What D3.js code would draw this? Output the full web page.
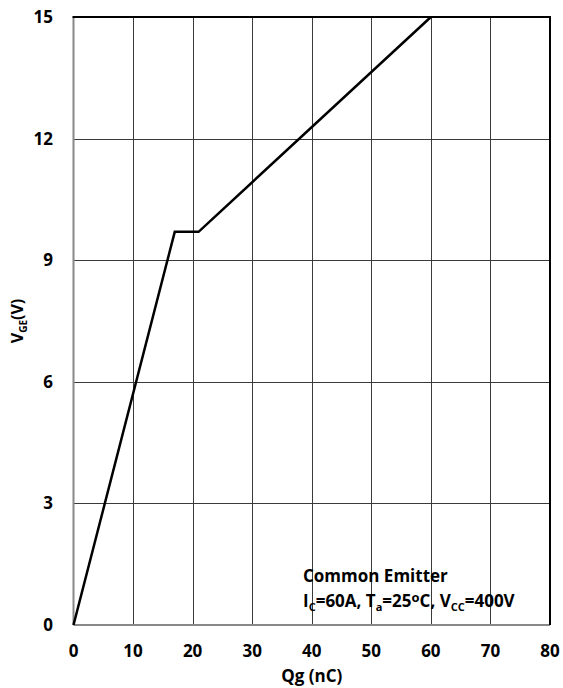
<!DOCTYPE html>
<html>
<head>
<meta charset="utf-8">
<script src="https://cdn.jsdelivr.net/npm/d3@7"></script>
<style>
  body { margin: 0; background: #fff; }
  text { font-family: "Open Sans", "DejaVu Sans", sans-serif; font-weight: 700; fill: #000; }
</style>
</head>
<body>
<div id="chart"></div>
<script>
// gate charge curve, VGE vs Qg
var qg = [0, 17, 21, 60];
var vge = [0, 9.7, 9.7, 15];
var xTicks = [0, 10, 20, 30, 40, 50, 60, 70, 80];
var yTicks = [0, 3, 6, 9, 12, 15];

var width = 563, height = 688;
var margin = {top: 17, right: 13, bottom: 63, left: 73.5};

var svg = d3.select("#chart").append("svg")
  .attr("width", width)
  .attr("height", height);

var x = d3.scaleLinear().domain([0, 80]).range([margin.left, width - margin.right]);
var y = d3.scaleLinear().domain([0, 15]).range([height - margin.bottom, margin.top]);

// grid
svg.append("g").selectAll("line.v")
  .data(xTicks.slice(1, -1))
  .enter().append("line")
    .attr("x1", d => Math.round(x(d)) + 0.5)
    .attr("x2", d => Math.round(x(d)) + 0.5)
    .attr("y1", y(15))
    .attr("y2", y(0))
    .style("stroke", "#3a3a3a")
    .style("stroke-width", 1);

svg.append("g").selectAll("line.h")
  .data(yTicks.slice(1, -1))
  .enter().append("line")
    .attr("x1", x(0))
    .attr("x2", x(80))
    .attr("y1", d => Math.round(y(d)) + 0.5)
    .attr("y2", d => Math.round(y(d)) + 0.5)
    .style("stroke", "#3a3a3a")
    .style("stroke-width", 1);

// frame: grey left/bottom, black top/right
svg.append("line")
  .attr("x1", x(0)).attr("x2", x(0)).attr("y1", y(15)).attr("y2", y(0))
  .style("stroke", "#888").style("stroke-width", 2);
svg.append("line")
  .attr("x1", x(0)).attr("x2", x(80)).attr("y1", y(0)).attr("y2", y(0))
  .style("stroke", "#888").style("stroke-width", 2);
svg.append("line")
  .attr("x1", x(0) - 1).attr("x2", x(80) + 1).attr("y1", y(15)).attr("y2", y(15))
  .style("stroke", "#000").style("stroke-width", 2);
svg.append("line")
  .attr("x1", x(80)).attr("x2", x(80)).attr("y1", y(15)).attr("y2", y(0))
  .style("stroke", "#000").style("stroke-width", 2);

// tick labels
svg.append("g").selectAll("text")
  .data(xTicks)
  .enter().append("text")
    .attr("x", d => x(d))
    .attr("y", 657)
    .attr("text-anchor", "middle")
    .style("font-size", "17px")
    .text(d => d);

svg.append("g").selectAll("text")
  .data(yTicks)
  .enter().append("text")
    .attr("x", 53)
    .attr("y", d => y(d) + 6)
    .attr("text-anchor", "end")
    .style("font-size", "17px")
    .text(d => d);

// axis titles
svg.append("text")
  .attr("x", (x(0) + x(80)) / 2)
  .attr("y", 682)
  .attr("text-anchor", "middle")
  .style("font-size", "17px")
  .text("Qg (nC)");

var yt = svg.append("text")
  .attr("transform", "translate(23," + ((y(0) + y(15)) / 2) + ") rotate(-90)")
  .attr("text-anchor", "middle")
  .style("font-size", "16px");
yt.append("tspan").text("V");
yt.append("tspan").attr("dy", 4).style("font-size", "10px").text("GE");
yt.append("tspan").attr("dy", -4).text("(V)");

// curve
var line = d3.line()
  .x((d, i) => x(qg[i]))
  .y(d => y(d));

svg.append("path")
  .attr("d", line(vge))
  .style("fill", "none")
  .style("stroke", "#000")
  .style("stroke-width", 2.5)
  .style("stroke-linejoin", "miter");

// annotation
svg.append("text")
  .attr("x", 303)
  .attr("y", 582)
  .style("font-size", "17px")
  .text("Common Emitter");

var note = svg.append("text")
  .attr("x", 303)
  .attr("y", 607)
  .style("font-size", "17px");
note.append("tspan").text("I");
note.append("tspan").attr("dy", 4).style("font-size", "11px").text("C");
note.append("tspan").attr("dy", -4).text("=60A, T");
note.append("tspan").attr("dy", 4).style("font-size", "11px").text("a");
note.append("tspan").attr("dy", -4).text("=25");
note.append("tspan").attr("dy", -5).style("font-size", "13px").text("o");
note.append("tspan").attr("dy", 5).text("C, V");
note.append("tspan").attr("dy", 4).style("font-size", "11px").text("CC");
note.append("tspan").attr("dy", -4).text("=400V");
</script>
</body>
</html>
